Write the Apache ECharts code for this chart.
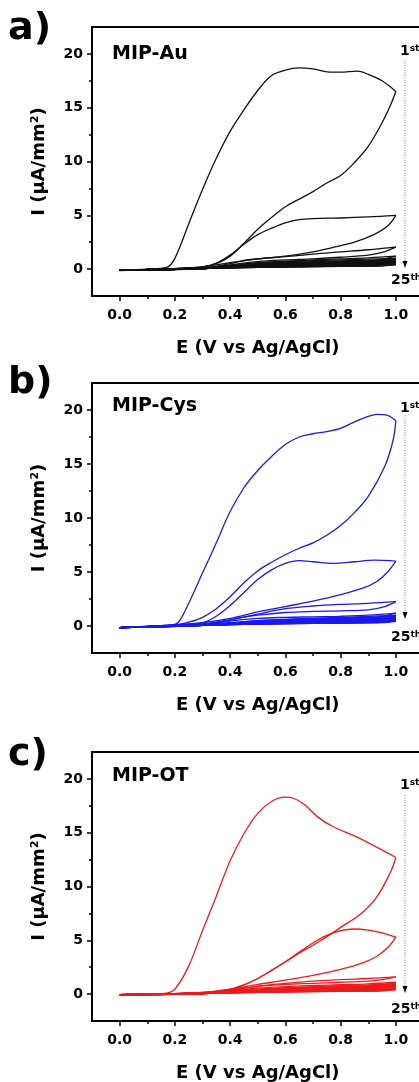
<!DOCTYPE html>
<html>
<head>
<meta charset="utf-8">
<title>MIP cyclic voltammograms</title>
<script src="https://cdn.jsdelivr.net/npm/echarts@6/dist/echarts.min.js"></script>
<style>
  html, body { margin: 0; padding: 0; background: #fff; }
  #main { width: 419px; height: 1082px; }
</style>
</head>
<body>
<div id="main"></div>
<script>
// ---- data: [E (V), I (uA/mm2)] ----
// panel a) MIP-Au
var a1Fwd = [[0,-0.1],[0.1,0],[0.17,0.15],[0.2,1.0],[0.25,4.2],[0.3,7.4],[0.35,10.3],[0.4,12.8],[0.45,14.8],[0.5,16.6],[0.55,18.0],[0.6,18.5],[0.65,18.7],[0.7,18.6],[0.76,18.3],[0.8,18.3],[0.86,18.4],[0.9,18.1],[0.95,17.5],[1.0,16.5]];
var a1Rev = [[1.0,16.5],[0.98,15.2],[0.95,13.6],[0.9,11.4],[0.85,9.9],[0.8,8.7],[0.75,8.0],[0.7,7.2],[0.65,6.5],[0.6,5.8],[0.55,4.8],[0.5,3.7],[0.45,2.4],[0.4,1.2],[0.35,0.5],[0.3,0.2],[0.2,0.05],[0.1,-0.05],[0,-0.15]];
var a2Fwd = [[0,-0.1],[0.2,0.05],[0.3,0.2],[0.35,0.55],[0.4,1.3],[0.45,2.3],[0.5,3.2],[0.55,3.8],[0.6,4.3],[0.65,4.6],[0.7,4.7],[0.8,4.75],[0.9,4.85],[1.0,5.0]];
var a2Rev = [[1.0,5.0],[0.97,4.0],[0.92,3.2],[0.85,2.5],[0.77,2.0],[0.7,1.6],[0.6,1.2],[0.5,0.95],[0.4,0.6],[0.3,0.2],[0.2,0.05],[0,-0.1]];
var a3Fwd = [[0,-0.1],[0.3,0.1],[0.4,0.5],[0.45,0.8],[0.5,0.95],[0.6,1.15],[0.7,1.4],[0.8,1.6],[0.9,1.8],[1.0,2.05]];
var a3Rev = [[1.0,2.05],[0.95,1.55],[0.9,1.3],[0.8,1.1],[0.7,0.95],[0.6,0.85],[0.5,0.7],[0.4,0.4],[0.3,0.1],[0,-0.1]];
var a4Fwd = [[0,-0.1],[0.3,0.05],[0.4,0.35],[0.5,0.6],[0.6,0.75],[0.7,0.85],[0.8,0.95],[0.9,1.05],[1.0,1.2]];
var a4Rev = [[1.0,1.2],[0.95,0.9],[0.9,0.75],[0.8,0.6],[0.6,0.45],[0.4,0.25],[0.3,0.05],[0,-0.1]];

// panel b) MIP-Cys
var b1Fwd = [[0,-0.15],[0.1,-0.05],[0.2,0.15],[0.22,0.6],[0.25,2.1],[0.3,4.9],[0.35,7.7],[0.4,10.6],[0.45,12.8],[0.5,14.4],[0.55,15.7],[0.6,16.8],[0.65,17.5],[0.7,17.8],[0.75,18.0],[0.8,18.3],[0.85,18.9],[0.9,19.4],[0.93,19.6],[0.97,19.5],[1.0,19.0]];
var b1Rev = [[1.0,19.0],[0.99,17.2],[0.96,14.8],[0.9,12.0],[0.85,10.5],[0.8,9.3],[0.75,8.4],[0.7,7.7],[0.65,7.2],[0.6,6.6],[0.55,5.9],[0.5,5.1],[0.45,4.0],[0.4,2.7],[0.35,1.6],[0.3,0.8],[0.25,0.35],[0.2,0.1],[0.1,-0.05],[0,-0.15]];
var b2Fwd = [[0,-0.15],[0.2,0.1],[0.3,0.3],[0.35,0.9],[0.4,1.9],[0.45,3.1],[0.5,4.3],[0.55,5.2],[0.6,5.8],[0.65,6.05],[0.7,5.95],[0.77,5.8],[0.85,5.95],[0.92,6.1],[1.0,6.0]];
var b2Rev = [[1.0,6.0],[0.97,5.0],[0.93,4.1],[0.88,3.5],[0.8,2.9],[0.7,2.3],[0.6,1.8],[0.5,1.3],[0.4,0.7],[0.3,0.3],[0.2,0.1],[0,-0.15]];
var b3Fwd = [[0,-0.15],[0.3,0.15],[0.4,0.55],[0.5,1.1],[0.6,1.6],[0.7,1.85],[0.8,2.0],[0.9,2.1],[1.0,2.25]];
var b3Rev = [[1.0,2.25],[0.96,1.8],[0.9,1.5],[0.8,1.4],[0.7,1.35],[0.6,1.25],[0.5,1.0],[0.4,0.6],[0.3,0.2],[0,-0.15]];
var b4Fwd = [[0,-0.15],[0.3,0.1],[0.4,0.45],[0.5,0.7],[0.6,0.8],[0.7,0.85],[0.8,0.9],[0.9,1.0],[1.0,1.2]];
var b4Rev = [[1.0,1.2],[0.95,0.9],[0.9,0.75],[0.7,0.6],[0.5,0.45],[0.4,0.3],[0.3,0.1],[0,-0.15]];

// panel c) MIP-OT
var c1Fwd = [[0,-0.05],[0.1,0],[0.17,0.1],[0.2,0.45],[0.25,2.6],[0.3,5.9],[0.35,9.1],[0.4,12.4],[0.45,14.9],[0.5,16.8],[0.55,17.9],[0.6,18.3],[0.63,18.2],[0.67,17.6],[0.72,16.4],[0.77,15.6],[0.85,14.7],[0.92,13.8],[1.0,12.7]];
var c1Rev = [[1.0,12.7],[0.98,11.3],[0.93,9.0],[0.87,7.4],[0.8,6.2],[0.73,5.0],[0.65,3.8],[0.6,3.0],[0.55,2.2],[0.5,1.45],[0.45,0.85],[0.4,0.45],[0.35,0.25],[0.3,0.15],[0.2,0.05],[0.1,0],[0,-0.05]];
var c2Fwd = [[0,-0.05],[0.3,0.12],[0.35,0.22],[0.4,0.42],[0.45,0.85],[0.5,1.45],[0.55,2.2],[0.6,3.0],[0.65,3.9],[0.7,4.75],[0.75,5.45],[0.8,5.9],[0.85,6.05],[0.9,5.95],[0.95,5.7],[1.0,5.3]];
var c2Rev = [[1.0,5.3],[0.97,4.3],[0.93,3.5],[0.88,2.9],[0.8,2.3],[0.7,1.75],[0.6,1.3],[0.5,0.9],[0.4,0.45],[0.3,0.15],[0.2,0.05],[0,-0.05]];
var c3Fwd = [[0,-0.05],[0.3,0.1],[0.4,0.35],[0.5,0.75],[0.6,1.0],[0.7,1.2],[0.8,1.35],[0.9,1.45],[1.0,1.6]];
var c3Rev = [[1.0,1.6],[0.95,1.35],[0.9,1.2],[0.8,1.1],[0.7,1.0],[0.6,0.9],[0.5,0.7],[0.4,0.35],[0.3,0.1],[0,-0.05]];
var c4Fwd = [[0,-0.05],[0.3,0.05],[0.4,0.3],[0.5,0.55],[0.6,0.7],[0.7,0.8],[0.8,0.88],[0.9,0.95],[1.0,1.1]];
var c4Rev = [[1.0,1.1],[0.95,0.85],[0.9,0.72],[0.7,0.58],[0.5,0.42],[0.4,0.25],[0.3,0.08],[0,-0.05]];

// later cycles (5th .. 25th), values at these potentials
var smallFwdE = [0, 0.3, 0.5, 0.7, 0.9, 1.0];
var smallRevE = [1.0, 0.95, 0.8, 0.6, 0.4, 0.2, 0];

var aSmallFwd = [
  [-0.1, 0.05, 0.55, 0.78, 0.92, 1.02],
  [-0.1, 0.05, 0.5, 0.7, 0.83, 0.92],
  [-0.1, 0.05, 0.46, 0.64, 0.76, 0.84],
  [-0.1, 0.05, 0.43, 0.6, 0.71, 0.78],
  [-0.1, 0.05, 0.41, 0.57, 0.66, 0.72],
  [-0.1, 0.05, 0.39, 0.54, 0.62, 0.67],
  [-0.1, 0.05, 0.37, 0.51, 0.58, 0.63],
  [-0.1, 0.05, 0.35, 0.48, 0.55, 0.59],
  [-0.1, 0.05, 0.33, 0.45, 0.52, 0.55],
  [-0.1, 0.05, 0.31, 0.43, 0.49, 0.52],
  [-0.1, 0.05, 0.3, 0.41, 0.46, 0.49],
  [-0.1, 0.05, 0.28, 0.39, 0.44, 0.46],
  [-0.1, 0.05, 0.27, 0.37, 0.42, 0.44],
  [-0.1, 0.05, 0.26, 0.36, 0.4, 0.42]
];
var aSmallRev = [
  [1.02, 0.72, 0.5, 0.4, 0.22, 0.03, -0.12],
  [0.92, 0.64, 0.46, 0.36, 0.2, 0.03, -0.12],
  [0.84, 0.58, 0.42, 0.33, 0.19, 0.03, -0.12],
  [0.78, 0.54, 0.39, 0.31, 0.18, 0.03, -0.12],
  [0.72, 0.5, 0.37, 0.29, 0.17, 0.02, -0.12],
  [0.67, 0.47, 0.35, 0.27, 0.16, 0.02, -0.12],
  [0.63, 0.44, 0.33, 0.26, 0.15, 0.02, -0.12],
  [0.59, 0.41, 0.31, 0.25, 0.14, 0.02, -0.12],
  [0.55, 0.39, 0.3, 0.24, 0.14, 0.02, -0.12],
  [0.52, 0.37, 0.29, 0.23, 0.13, 0.02, -0.12],
  [0.49, 0.35, 0.28, 0.22, 0.13, 0.02, -0.12],
  [0.46, 0.33, 0.27, 0.21, 0.12, 0.02, -0.12],
  [0.44, 0.32, 0.26, 0.2, 0.12, 0.02, -0.12],
  [0.42, 0.31, 0.25, 0.2, 0.11, 0.02, -0.12]
];
var bSmallFwd = [
  [-0.15, 0.05, 0.5, 0.72, 0.88, 1.0],
  [-0.15, 0.05, 0.46, 0.66, 0.8, 0.9],
  [-0.15, 0.05, 0.43, 0.61, 0.73, 0.82],
  [-0.15, 0.05, 0.4, 0.57, 0.68, 0.75],
  [-0.15, 0.05, 0.38, 0.54, 0.63, 0.7],
  [-0.15, 0.05, 0.36, 0.51, 0.59, 0.65],
  [-0.15, 0.05, 0.34, 0.48, 0.56, 0.61],
  [-0.15, 0.05, 0.32, 0.45, 0.53, 0.57],
  [-0.15, 0.05, 0.3, 0.43, 0.5, 0.53],
  [-0.15, 0.05, 0.29, 0.41, 0.47, 0.5],
  [-0.15, 0.05, 0.28, 0.39, 0.44, 0.47],
  [-0.15, 0.05, 0.27, 0.37, 0.42, 0.44]
];
var bSmallRev = [
  [1.0, 0.7, 0.48, 0.38, 0.21, 0.03, -0.15],
  [0.9, 0.62, 0.44, 0.35, 0.2, 0.03, -0.15],
  [0.82, 0.56, 0.41, 0.32, 0.18, 0.03, -0.15],
  [0.75, 0.52, 0.38, 0.3, 0.17, 0.02, -0.15],
  [0.7, 0.48, 0.36, 0.28, 0.16, 0.02, -0.15],
  [0.65, 0.45, 0.34, 0.27, 0.15, 0.02, -0.15],
  [0.61, 0.42, 0.32, 0.26, 0.15, 0.02, -0.15],
  [0.57, 0.4, 0.31, 0.25, 0.14, 0.02, -0.15],
  [0.53, 0.38, 0.3, 0.24, 0.13, 0.02, -0.15],
  [0.5, 0.36, 0.29, 0.23, 0.13, 0.02, -0.15],
  [0.47, 0.34, 0.28, 0.22, 0.12, 0.02, -0.15],
  [0.44, 0.32, 0.27, 0.21, 0.12, 0.02, -0.15]
];
var cSmallFwd = [
  [-0.05, 0.05, 0.45, 0.7, 0.86, 0.98],
  [-0.05, 0.05, 0.42, 0.64, 0.78, 0.88],
  [-0.05, 0.05, 0.39, 0.59, 0.71, 0.8],
  [-0.05, 0.05, 0.37, 0.55, 0.66, 0.73],
  [-0.05, 0.05, 0.35, 0.52, 0.61, 0.67],
  [-0.05, 0.05, 0.33, 0.49, 0.57, 0.62],
  [-0.05, 0.05, 0.31, 0.46, 0.53, 0.58],
  [-0.05, 0.05, 0.3, 0.43, 0.5, 0.54],
  [-0.05, 0.05, 0.28, 0.41, 0.47, 0.5],
  [-0.05, 0.05, 0.27, 0.39, 0.44, 0.47],
  [-0.05, 0.05, 0.26, 0.37, 0.41, 0.44],
  [-0.05, 0.05, 0.25, 0.35, 0.39, 0.41]
];
var cSmallRev = [
  [0.98, 0.68, 0.46, 0.36, 0.2, 0.03, -0.05],
  [0.88, 0.6, 0.42, 0.33, 0.19, 0.03, -0.05],
  [0.8, 0.55, 0.39, 0.31, 0.18, 0.03, -0.05],
  [0.73, 0.5, 0.37, 0.29, 0.17, 0.02, -0.05],
  [0.67, 0.46, 0.35, 0.27, 0.16, 0.02, -0.05],
  [0.62, 0.43, 0.33, 0.26, 0.15, 0.02, -0.05],
  [0.58, 0.41, 0.31, 0.25, 0.14, 0.02, -0.05],
  [0.54, 0.38, 0.3, 0.24, 0.14, 0.02, -0.05],
  [0.5, 0.36, 0.29, 0.23, 0.13, 0.02, -0.05],
  [0.47, 0.34, 0.28, 0.22, 0.12, 0.02, -0.05],
  [0.44, 0.32, 0.27, 0.21, 0.12, 0.02, -0.05],
  [0.41, 0.31, 0.26, 0.2, 0.11, 0.02, -0.05]
];

// axis ticks / labels
var xMajor = [0, 0.2, 0.4, 0.6, 0.8, 1.0];
var xMinor = [0.1, 0.3, 0.5, 0.7, 0.9];
var yMajor = [0, 5, 10, 15, 20];
var yMinor = [2.5, 7.5, 12.5, 17.5];
var panelNames = ['MIP-Au', 'MIP-Cys', 'MIP-OT'];
var panelLetters = ['a)', 'b)', 'c)'];

// ---- layout ----
var panels = [
  { top: 27,  height: 269, color: '#111111', big: [a1Fwd, a1Rev, a2Fwd, a2Rev, a3Fwd, a3Rev, a4Fwd, a4Rev], sF: aSmallFwd, sR: aSmallRev,
    letterY: 2, nameY: 27, firstY: 24, lineY1: 33, tipY: 241, lastY: 253 },
  { top: 383, height: 270, color: '#1a1aee', big: [b1Fwd, b1Rev, b2Fwd, b2Rev, b3Fwd, b3Rev, b4Fwd, b4Rev], sF: bSmallFwd, sR: bSmallRev,
    letterY: 0, nameY: 23, firstY: 25, lineY1: 32, tipY: 236, lastY: 254 },
  { top: 752, height: 269, color: '#ee1a1a', big: [c1Fwd, c1Rev, c2Fwd, c2Rev, c3Fwd, c3Rev, c4Fwd, c4Rev], sF: cSmallFwd, sR: cSmallRev,
    letterY: 3, nameY: 24, firstY: 33, lineY1: 43, tipY: 241, lastY: 257 }
];

var FONT = '"DejaVu Sans", sans-serif';
var grids = [], xAxes = [], yAxes = [], series = [], graphics = [];

function zip(es, vs) {
  return es.map(function (e, k) { return [e, vs[k]]; });
}

function branch(points, idx, color) {
  return {
    type: 'line', xAxisIndex: idx, yAxisIndex: idx, data: points,
    smooth: 0.35, showSymbol: false, symbol: 'none',
    lineStyle: { color: color, width: 1.3 }, itemStyle: { color: color },
    silent: true, animation: false
  };
}

panels.forEach(function (p, i) {
  grids.push({ left: 92, right: -4.5, top: p.top, height: p.height, show: true,
    borderColor: '#000', borderWidth: 1.8, containLabel: false, outerBoundsMode: 'none' });

  var nameStyle = { color: '#000', fontFamily: FONT, fontWeight: 'bold', fontSize: 18 };
  xAxes[i] = {
    type: 'value', gridIndex: i, min: -0.1, max: 1.1, position: 'bottom',
    axisLine: { onZero: false, lineStyle: { color: '#000', width: 1.8 } },
    axisTick: { length: 5, customValues: xMajor, lineStyle: { color: '#000', width: 1.5 } },
    axisLabel: { customValues: xMajor, margin: 12, color: '#000', fontFamily: FONT, fontWeight: 'bold', fontSize: 14,
      formatter: function (v) { return v.toFixed(1); } },
    splitLine: { show: false },
    name: 'E (V vs Ag/AgCl)', nameLocation: 'middle', nameGap: 43, nameTextStyle: nameStyle
  };
  xAxes[i + 3] = {
    type: 'value', gridIndex: i, min: -0.1, max: 1.1, position: 'bottom',
    axisLine: { show: false, onZero: false },
    axisTick: { length: 3, customValues: xMinor, lineStyle: { color: '#000', width: 1.5 } },
    axisLabel: { show: false }, splitLine: { show: false }
  };
  yAxes[i] = {
    type: 'value', gridIndex: i, min: -2.5, max: 22.5, position: 'left',
    axisLine: { show: true, onZero: false, lineStyle: { color: '#000', width: 1.8 } },
    axisTick: { show: true, length: 5, customValues: yMajor, lineStyle: { color: '#000', width: 1.5 } },
    axisLabel: { customValues: yMajor, margin: 9, color: '#000', fontFamily: FONT, fontWeight: 'bold', fontSize: 14 },
    splitLine: { show: false },
    name: 'I (μA/mm²)', nameLocation: 'middle', nameGap: 44, nameTextStyle: nameStyle
  };
  yAxes[i + 3] = {
    type: 'value', gridIndex: i, min: -2.5, max: 22.5, position: 'left',
    axisLine: { show: false, onZero: false },
    axisTick: { show: true, length: 3, customValues: yMinor, lineStyle: { color: '#000', width: 1.5 } },
    axisLabel: { show: false }, splitLine: { show: false }
  };

  p.big.forEach(function (pts) { series.push(branch(pts, i, p.color)); });
  p.sF.forEach(function (row) { series.push(branch(zip(smallFwdE, row), i, p.color)); });
  p.sR.forEach(function (row) { series.push(branch(zip(smallRevE, row), i, p.color)); });

  var T = p.top;
  graphics.push(
    { type: 'text', x: 8, y: T + p.letterY, silent: true,
      style: { text: panelLetters[i], font: 'bold 38px ' + FONT, fill: '#000', verticalAlign: 'middle' } },
    { type: 'text', x: 112, y: T + p.nameY, silent: true,
      style: { text: panelNames[i], font: 'bold 19px ' + FONT, fill: '#000', verticalAlign: 'middle' } },
    { type: 'text', x: 400, y: T + p.firstY, silent: true,
      style: { text: '{n|1}{s|st}', verticalAlign: 'middle', fill: '#000',
        rich: { n: { font: 'bold 14px ' + FONT, fill: '#000' }, s: { font: 'bold 9px ' + FONT, fill: '#000', verticalAlign: 'top' } } } },
    { type: 'line', silent: true,
      shape: { x1: 405, y1: T + p.lineY1, x2: 405, y2: T + p.tipY - 6 },
      style: { stroke: '#777', lineWidth: 1, lineDash: [1, 1.5] } },
    { type: 'polygon', silent: true,
      shape: { points: [[402.5, T + p.tipY - 7], [407.5, T + p.tipY - 7], [405, T + p.tipY]] },
      style: { fill: '#000' } },
    { type: 'text', x: 391, y: T + p.lastY, silent: true,
      style: { text: '{n|25}{s|th}', verticalAlign: 'middle', fill: '#000',
        rich: { n: { font: 'bold 14px ' + FONT, fill: '#000' }, s: { font: 'bold 9px ' + FONT, fill: '#000', verticalAlign: 'top' } } } }
  );
});

var myChart = echarts.init(document.getElementById('main'), null, { renderer: 'canvas' });
myChart.setOption({
  animation: false,
  backgroundColor: '#fff',
  grid: grids,
  xAxis: xAxes,
  yAxis: yAxes,
  series: series,
  graphic: { elements: graphics }
});
</script>
</body>
</html>
